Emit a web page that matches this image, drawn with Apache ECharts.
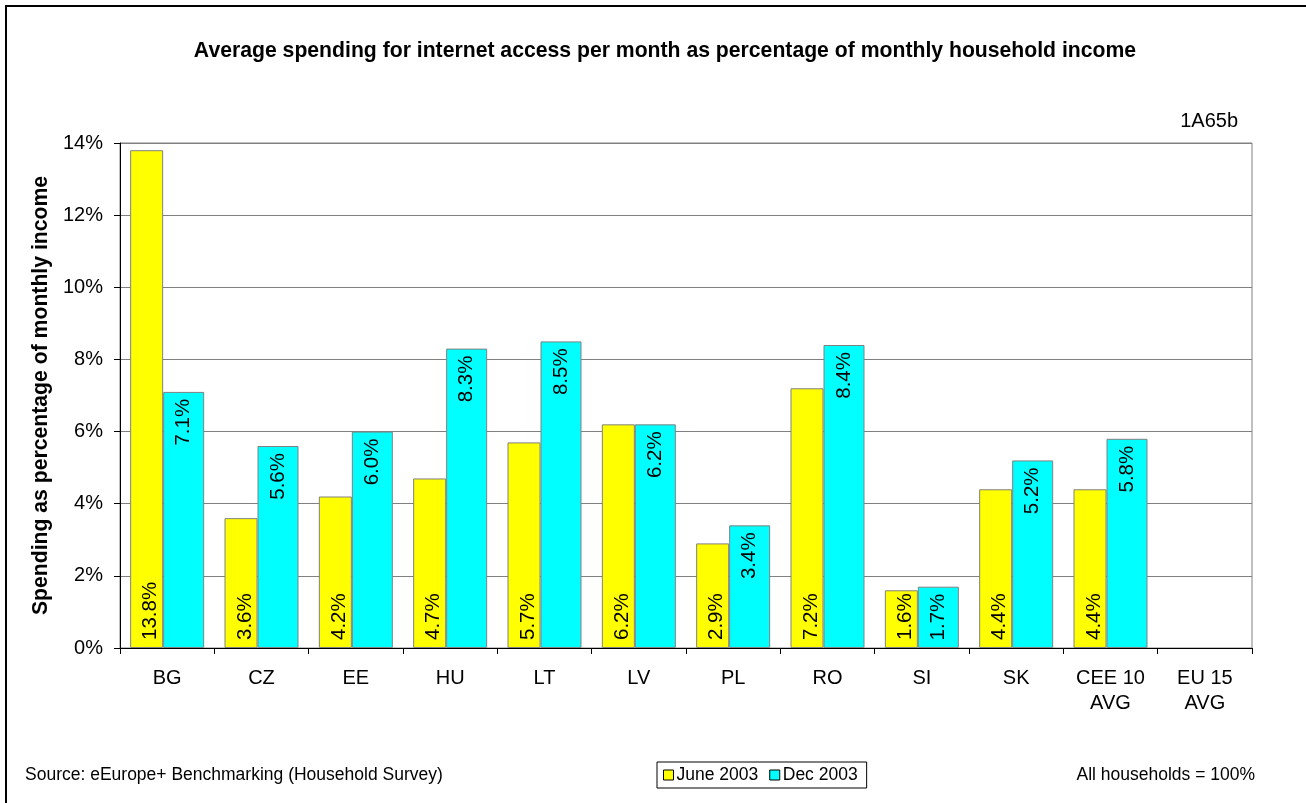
<!DOCTYPE html>
<html>
<head>
<meta charset="utf-8">
<script src="https://cdn.jsdelivr.net/npm/echarts@6/dist/echarts.min.js"></script>
<style>
  html, body { margin: 0; padding: 0; background: #fff; }
  #chart { width: 1306px; height: 803px; }
</style>
</head>
<body>
<div id="chart"></div>
<script>
// Countries / aggregates on the category axis
var categories = ['BG', 'CZ', 'EE', 'HU', 'LT', 'LV', 'PL', 'RO', 'SI', 'SK', 'CEE 10\nAVG', 'EU 15\nAVG'];
// Spending as % of monthly household income
var june2003 = [13.8, 3.6, 4.2, 4.7, 5.7, 6.2, 2.9, 7.2, 1.6, 4.4, 4.4, null];
var dec2003 = [7.1, 5.6, 6.0, 8.3, 8.5, 6.2, 3.4, 8.4, 1.7, 5.2, 5.8, null];
// Value axis ticks
var yTicks = [0, 2, 4, 6, 8, 10, 12, 14];
var yTickLabels = ['0%', '2%', '4%', '6%', '8%', '10%', '12%', '14%'];

var FONT = '"Liberation Sans", Arial, Helvetica, sans-serif';

var chart = echarts.init(document.getElementById('chart'), null, { renderer: 'canvas' });

function pctLabel(p) { return p.value.toFixed(1) + '%'; }

var option = {
  backgroundColor: '#ffffff',
  animation: false,
  textStyle: { fontFamily: FONT, color: '#000' },
  title: [
    {
      text: 'Average spending for internet access per month as percentage of monthly household income',
      left: 660, top: 36, textAlign: 'center',
      textStyle: { fontFamily: FONT, fontSize: 21.2, fontWeight: 'bold', color: '#000' }
    },
    {
      text: '1A65b',
      right: 63, top: 106,
      textStyle: { fontFamily: FONT, fontSize: 20, fontWeight: 'normal', color: '#000' }
    },
    {
      text: 'Source: eEurope+ Benchmarking (Household Survey)',
      left: 20, top: 761,
      textStyle: { fontFamily: FONT, fontSize: 17.5, fontWeight: 'normal', color: '#000' }
    },
    {
      text: 'All households = 100%',
      right: 46, top: 761,
      textStyle: { fontFamily: FONT, fontSize: 17.5, fontWeight: 'normal', color: '#000' }
    }
  ],
  legend: {
    left: 657, top: 762,
    orient: 'horizontal',
    padding: [4, 9, 4, 6],
    itemGap: 11,
    itemWidth: 10, itemHeight: 10,
    borderColor: '#000', borderWidth: 1,
    icon: 'rect',
    itemStyle: { borderColor: '#000', borderWidth: 1 },
    textStyle: { fontFamily: FONT, fontSize: 17.5, color: '#000', padding: [0, 0, 0, -2] },
    data: ['June 2003', 'Dec 2003']
  },
  grid: {
    left: 120, right: 54, top: 143, bottom: 155,
    show: true, borderColor: '#808080', borderWidth: 1, backgroundColor: '#fff'
  },
  xAxis: {
    type: 'category',
    data: categories,
    axisLine: { lineStyle: { color: '#000', width: 1 } },
    axisTick: { show: true, length: 6, lineStyle: { color: '#000' } },
    axisLabel: {
      fontFamily: FONT, fontSize: 20, color: '#000', margin: 18,
      lineHeight: 25, interval: 0
    }
  },
  yAxis: {
    type: 'value',
    min: 0, max: 14, interval: 2,
    name: 'Spending as percentage of monthly income',
    nameLocation: 'middle',
    nameGap: 68,
    nameTextStyle: { fontFamily: FONT, fontSize: 21.2, fontWeight: 'bold', color: '#000' },
    axisLine: { show: true, lineStyle: { color: '#000', width: 1 } },
    axisTick: { show: true, length: 6, lineStyle: { color: '#000' } },
    axisLabel: {
      fontFamily: FONT, fontSize: 20, color: '#000', margin: 17,
      formatter: function (v) { var i = yTicks.indexOf(v); return i >= 0 ? yTickLabels[i] : ''; }
    },
    splitLine: { show: true, lineStyle: { color: '#808080', width: 1 } }
  },
  series: [
    {
      name: 'June 2003',
      type: 'bar',
      data: june2003,
      barWidth: 33,
      barGap: '0%',
      itemStyle: { color: '#ffff00', borderColor: '#808080', borderWidth: 1 },
      label: {
        show: true, position: 'insideBottom', distance: 8,
        rotate: 90, align: 'left', verticalAlign: 'middle',
        fontFamily: FONT, fontSize: 20.5, color: '#000',
        offset: [0, 4],
        formatter: pctLabel
      }
    },
    {
      name: 'Dec 2003',
      type: 'bar',
      data: dec2003,
      barWidth: 41,
      barGap: '0%',
      itemStyle: { color: '#00ffff', borderColor: '#808080', borderWidth: 1 },
      label: {
        show: true, position: 'insideTop', distance: 7,
        rotate: 90, align: 'right', verticalAlign: 'middle',
        fontFamily: FONT, fontSize: 20.5, color: '#000',
        formatter: pctLabel
      }
    }
  ],
  graphic: [
    {
      type: 'rect', silent: true, z: -1,
      shape: { x: 6, y: 6, width: 1320, height: 820 },
      style: { fill: 'none', stroke: '#000', lineWidth: 2 }
    }
  ]
};

chart.setOption(option);
</script>
</body>
</html>
